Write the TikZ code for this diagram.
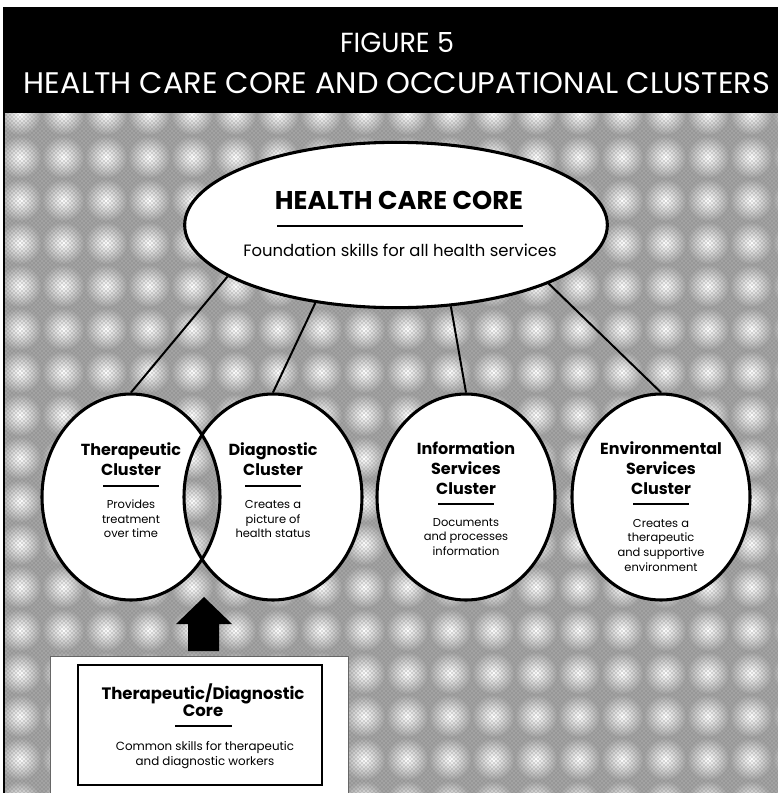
\documentclass[tikz,border=0pt]{standalone}
\usepackage{graphicx}
\usepackage{fontspec}
\setmainfont{Poppins}
\usetikzlibrary{shapes.geometric,patterns}
\colorlet{fieldgray}{black!36}
\begin{document}
\begin{tikzpicture}[x=0.75pt,y=-0.75pt,
  field/.style={fill=fieldgray},
  blob/.style={inner color=white,outer color=fieldgray},
  cluster/.style={ellipse,draw=black,line width=2.3pt,minimum width=133.5pt,minimum height=154.5pt,inner sep=0pt},
  link/.style={draw=black,line width=1.5pt},
  ctitle/.style={align=center,inner sep=0pt,font=\fontsize{12}{15}\selectfont\bfseries},
  cdesc/.style={align=center,inner sep=0pt,font=\fontsize{8.6}{11}\selectfont},
  hrule/.style={line width=2.2pt},
  plain/.style={inner sep=0pt}
]
\useasboundingbox (0,0) rectangle (778,793);

% heading band and left border
\fill[black] (3,7) rectangle (778,113);
\fill[black] (3,113) rectangle (5,793);

% halftone field with soft light blobs
\fill[field] (5,113) rectangle (778,793);
\begin{scope}
  \clip (5,113) rectangle (778,793);
  \foreach \i in {0,...,18}
    \foreach \j in {0,...,16}
      \shade[blob] (20+43*\i,114+43*\j) circle (21);
  \fill[pattern=crosshatch dots,pattern color=black!55] (5,113) rectangle (778,793);
\end{scope}

% heading text
\node[plain,text=white] (fig) at (397,43) {\resizebox{85.5pt}{15pt}{FIGURE 5}};
\node[plain,text=white] (heading) at (397,83) {\resizebox{559.5pt}{15.75pt}{HEALTH CARE CORE AND OCCUPATIONAL CLUSTERS}};

% core ellipse
\node[ellipse,draw=black,line width=2.3pt,fill=white,minimum width=317pt,minimum height=124pt,inner sep=0pt] (core) at (396,225) {};
\node[plain] (coretitle) at (399,200) {\resizebox{186pt}{!}{\bfseries HEALTH CARE CORE}};
\draw[hrule] (277,226) -- (523,226);
\node[plain] (coresub) at (400,250) {\resizebox{235pt}{!}{Foundation skills for all health services}};

% white interiors of the clusters (the overlap stays open)
\fill[white,even odd rule] (131,497) ellipse [x radius=89,y radius=103]
                           (273,497) ellipse [x radius=89,y radius=103];
\fill[white] (466,497) ellipse [x radius=89,y radius=103];
\fill[white] (661,497) ellipse [x radius=89,y radius=103];

% cluster outlines
\node[cluster] (ther) at (131,497) {};
\node[cluster] (diag) at (273,497) {};
\node[cluster] (info) at (466,497) {};
\node[cluster] (env)  at (661,497) {};

% connectors from the core
\draw[link] (core.197) -- (ther.north);
\draw[link] (core.224) -- (diag.north);
\draw[link] (core.304) -- (info.north);
\draw[link] (core.339) -- (env.north);

% cluster texts
\node[ctitle] (thert) at (131,459) {Therapeutic\\Cluster};
\draw[hrule] (103,486) -- (159,486);
\node[cdesc] (therd) at (131,519) {Provides\\treatment\\over time};

\node[ctitle] (diagt) at (273,459) {Diagnostic\\Cluster};
\draw[hrule] (245,486) -- (301,486);
\node[cdesc] (diagd) at (273,519) {Creates a\\picture of\\health status};

\node[ctitle] (infot) at (466,468) {Information\\Services\\Cluster};
\draw[hrule] (438,504) -- (494,504);
\node[cdesc] (infod) at (466,537) {Documents\\and processes\\information};

\node[ctitle] (envt) at (661,468) {Environmental\\Services\\Cluster};
\draw[hrule] (633,504) -- (689,504);
\node[cdesc] (envd) at (661,545) {Creates a\\therapeutic\\and supportive\\environment};

% shared core box
\draw[black!60,line width=0.6pt,fill=white] (50,793) -- (50,656) -- (348,656) -- (348,793);
\node[draw=black,line width=1.8pt,fill=white,minimum width=183pt,minimum height=90pt,inner sep=0pt] (tdcore) at (200,725) {};
\node[plain,align=center,font=\fontsize{12.4}{13}\selectfont\bfseries] (tdt) at (203,700) {Therapeutic/Diagnostic\\Core};
\draw[hrule] (175,726) -- (232,726);
\node[plain,align=center,font=\fontsize{8.9}{11.2}\selectfont] (tdd) at (205,755) {Common skills for therapeutic\\and diagnostic workers};

% block arrow pointing up to the overlap
\fill[black] (204,597) -- (232,624) -- (219,624) -- (219,651) -- (188,651) -- (188,624) -- (176,624) -- cycle;
\end{tikzpicture}
\end{document}
